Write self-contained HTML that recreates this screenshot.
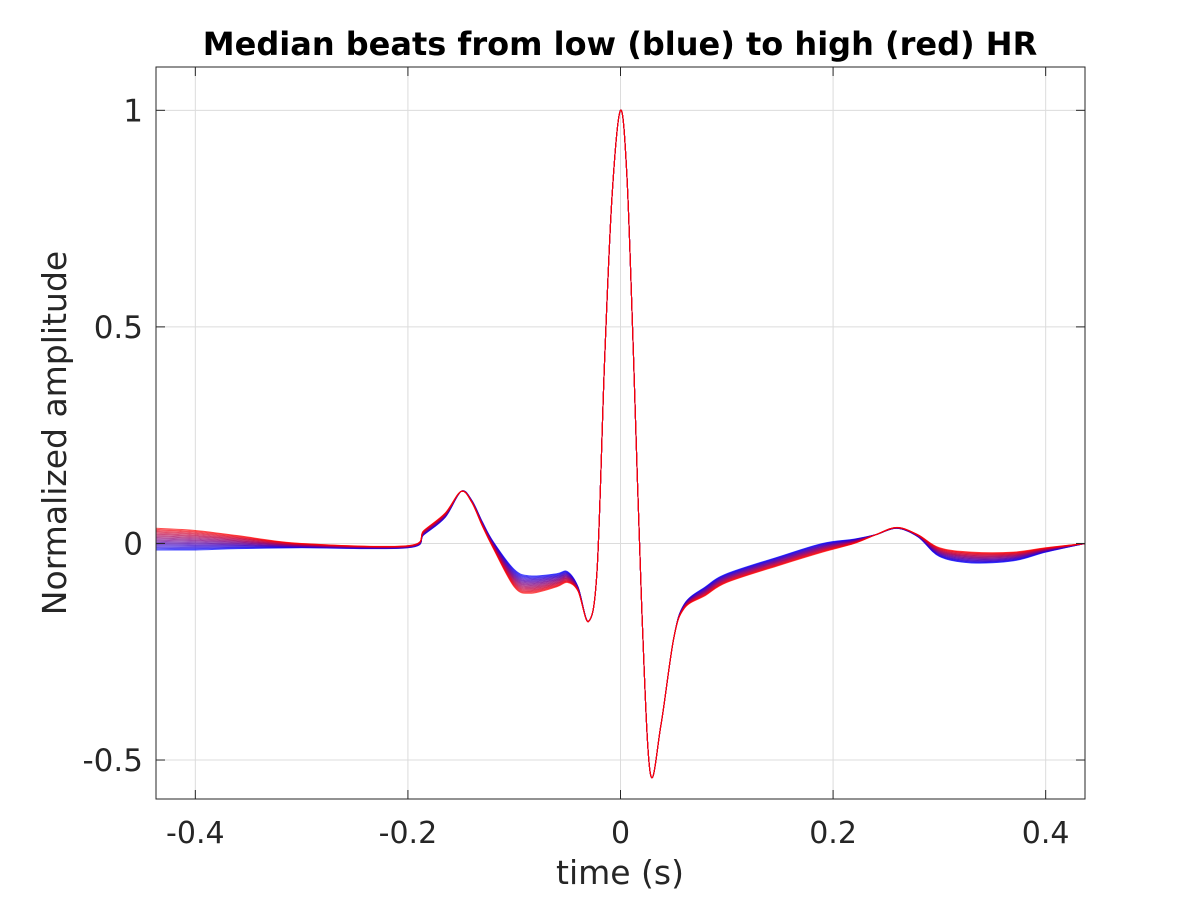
<!DOCTYPE html>
<html><head><meta charset="utf-8"><style>
body{margin:0;background:#fff;}
svg{display:block;font-family:"DejaVu Sans","Liberation Sans",sans-serif;}
</style></head><body>
<svg id="chart" width="1200" height="900">
<rect width="1200" height="900" fill="#fff"/>
<g id="grid"></g>
<g id="series"></g>
<rect x="156" y="67" width="929" height="732" fill="none" stroke="#262626" stroke-width="1"/>
<g id="ticks"></g>
<text x="620" y="55" text-anchor="middle" font-size="32" font-weight="bold" fill="#000">Median beats from low (blue) to high (red) HR</text>
<text x="620" y="884" text-anchor="middle" font-size="33" fill="#262626">time (s)</text>
<text transform="translate(66,433) rotate(-90)" text-anchor="middle" font-size="33" fill="#262626">Normalized amplitude</text>
</svg>
<script>
const xTicks=[-0.4,-0.2,0,0.2,0.4];
const xTickLabels=["-0.4","-0.2","0","0.2","0.4"];
const yTicks=[-0.5,0,0.5,1];
const yTickLabels=["-0.5","0","0.5","1"];
const times=[-0.437,-0.4,-0.36,-0.3,-0.2,-0.185,-0.165,-0.15,-0.14,-0.13,-0.12,-0.1,-0.085,-0.06,-0.05,-0.04,-0.03,-0.022,-0.015,-0.008,0,0.006,0.012,0.02,0.028,0.038,0.05,0.06,0.08,0.1,0.15,0.19,0.22,0.24,0.26,0.28,0.3,0.33,0.37,0.4,0.437];
const blueBeat=[-0.015,-0.015,-0.012,-0.01,-0.01,0.02,0.06,0.12,0.1,0.05,0.005,-0.06,-0.075,-0.07,-0.065,-0.1,-0.18,-0.06,0.42,0.8,1.0,0.85,0.45,-0.15,-0.53,-0.42,-0.22,-0.14,-0.1,-0.07,-0.03,0.0,0.01,0.02,0.035,0.015,-0.03,-0.045,-0.04,-0.02,0.0];
const redDelta=[0.05,0.045,0.03,0.01,0.005,0.01,0.01,0,-0.005,-0.01,-0.015,-0.04,-0.04,-0.03,-0.025,-0.01,0,0,0,0,0,0,0,0,0,0,0,-0.01,-0.02,-0.02,-0.02,-0.02,-0.01,0,0.002,0.005,0.02,0.025,0.02,0.01,0];
const hrWeights=[0,0.05,0.1,0.15,0.2,0.25,0.3,0.35,0.4,0.45,0.5,0.55,0.6,0.65,0.7,0.75,0.8,0.85,0.9,0.95,1];
const X0=156,X1=1085,Y0=67,Y1=799,xmin=-0.437,xmax=0.437,ymin=-0.59,ymax=1.1;
const sx=v=>X0+(v-xmin)/(xmax-xmin)*(X1-X0);
const sy=v=>Y1-(v-ymin)/(ymax-ymin)*(Y1-Y0);
const NS="http://www.w3.org/2000/svg";
const grid=document.getElementById('grid'),ticks=document.getElementById('ticks'),ser=document.getElementById('series');
function mk(tag,attrs,parent){const e=document.createElementNS(NS,tag);for(const k in attrs)e.setAttribute(k,attrs[k]);parent.appendChild(e);return e;}
xTicks.forEach((t,i)=>{const x=sx(t);
 const g=mk('line',{x1:x,x2:x,y1:Y0,y2:Y1,stroke:'#dcdcdc','stroke-width':1},grid);
 
 
 mk('line',{x1:x,x2:x,y1:Y1,y2:Y1-9,stroke:'#262626'},ticks);
 mk('line',{x1:x,x2:x,y1:Y0,y2:Y0+9,stroke:'#262626'},ticks);
 const tx=mk('text',{x:x,y:Y1+44,'text-anchor':'middle','font-size':30,fill:'#262626'},ticks);
 tx.textContent=xTickLabels[i];
 
 
});
yTicks.forEach((t,i)=>{const y=sy(t);
 const g=mk('line',{x1:X0,x2:X1,y1:y,y2:y,stroke:'#dcdcdc','stroke-width':1},grid);
 
 
 mk('line',{x1:X0,x2:X0+9,y1:y,y2:y,stroke:'#262626'},ticks);
 mk('line',{x1:X1,x2:X1-9,y1:y,y2:y,stroke:'#262626'},ticks);
 const tx=mk('text',{x:X0-13,y:y+11,'text-anchor':'end','font-size':31,fill:'#262626'},ticks);
 tx.textContent=yTickLabels[i];
 
 
});
function smoothPath(pts){let d=`M${pts[0][0]},${pts[0][1]}`;
 for(let i=0;i<pts.length-1;i++){const p0=pts[Math.max(0,i-1)],p1=pts[i],p2=pts[i+1],p3=pts[Math.min(pts.length-1,i+2)];
  const c1=[p1[0]+(p2[0]-p0[0])/6,p1[1]+(p2[1]-p0[1])/6],c2=[p2[0]-(p3[0]-p1[0])/6,p2[1]-(p3[1]-p1[1])/6];
  d+=`C${c1[0].toFixed(2)},${c1[1].toFixed(2)} ${c2[0].toFixed(2)},${c2[1].toFixed(2)} ${p2[0].toFixed(2)},${p2[1].toFixed(2)}`;}
 return d;}
hrWeights.forEach((w,k)=>{
 const pts=times.map((t,i)=>[sx(t),sy(blueBeat[i]+w*redDelta[i])]);
 const r=Math.round(255*w),b=Math.round(255*(1-w));
 const p=mk('path',{d:smoothPath(pts),fill:'none',stroke:`rgb(${r},0,${b})`,'stroke-width':1,'stroke-opacity':0.7},ser);
 
 
});
</script>
</body></html>
